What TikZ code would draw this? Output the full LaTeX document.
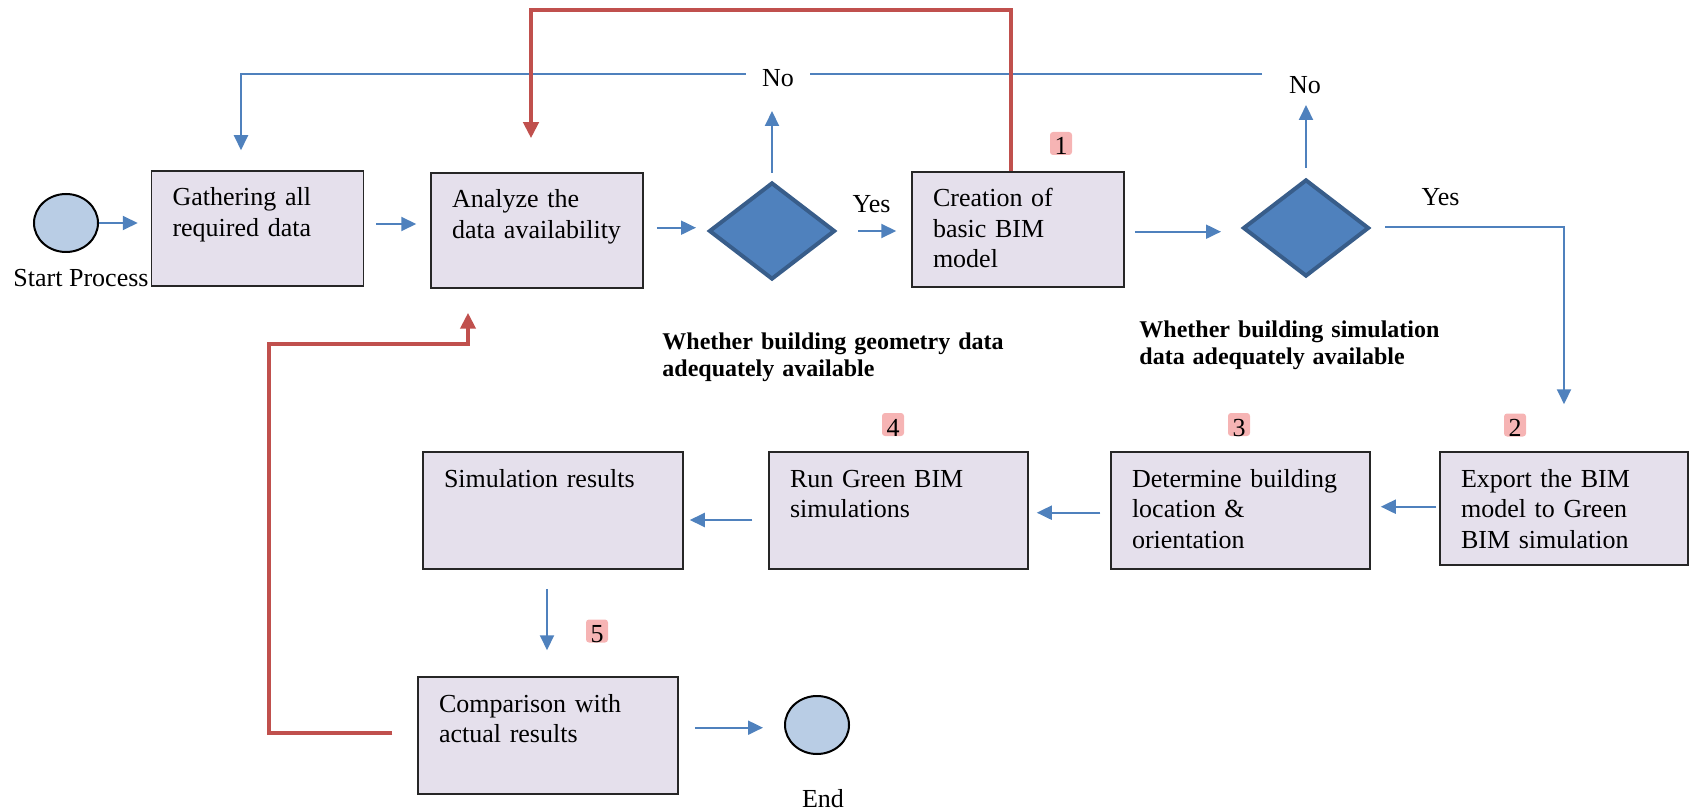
\documentclass[tikz,border=0pt]{standalone}
\usepackage{fontspec}
\setmainfont{Liberation Serif}
\usetikzlibrary{shapes.geometric, arrows.meta, positioning}
\definecolor{flowblue}{RGB}{79, 129, 189}
\definecolor{diamondedge}{RGB}{56, 93, 138}
\definecolor{boxfill}{RGB}{229, 224, 236}
\definecolor{terminalfill}{RGB}{185, 205, 229}
\definecolor{loopred}{RGB}{192, 80, 77}
\definecolor{glowred}{RGB}{246, 180, 180}

\begin{document}
\begin{tikzpicture}[x=0.5pt, y=-0.5pt,
        font=\fontsize{13}{15.25}\selectfont,
        task/.style={rectangle, draw=black!85, line width=0.75pt, fill=boxfill, align=left, inner xsep=10.5pt, inner ysep=0pt, text width=85pt, text height=17.5pt, text depth=40pt},
        wide/.style={text width=108.5pt, text depth=41pt},
        terminal/.style={ellipse, draw=black, line width=1pt, fill=terminalfill, minimum width=32pt, minimum height=29pt, inner sep=0pt},
        decision/.style={diamond, draw=diamondedge, line width=2pt, fill=flowblue, minimum width=63pt, minimum height=48.5pt, inner sep=0pt, aspect=1.3},
        flow/.style={draw=flowblue, line width=1pt, -{Triangle[length=7.5pt, width=7pt]}},
        feedback/.style={draw=loopred, line width=2.2pt, -{Triangle[length=8pt, width=7.5pt]}},
        stage/.style={fill=glowred, rounded corners=1.5pt, inner xsep=2.25pt, inner ysep=0pt, text height=11.5pt, text depth=0pt, anchor=base},
        question/.style={font=\fontsize{12}{13.5}\selectfont\bfseries, align=left, text width=175pt, inner sep=0pt, anchor=base west},
        tag/.style={anchor=base}
    ]
        \useasboundingbox (0,0) rectangle (1690,812);

        \node[terminal] (start) at (66,223) {};
        \node[tag] (startlabel) at (81,287) {Start Process};
        \node[task] (gather) at (257.5,228.5) {Gathering all\\required data};
        \node[task] (analyze) at (537,230.5) {Analyze the\\data~availability};
        \node[decision] (geomcheck) at (772,231) {};
        \node[task] (create) at (1018,229.5) {Creation of\\basic BIM\\model};
        \node[decision] (simcheck) at (1306,228) {};

        \node[task, text width=103pt, text depth=39pt] (export) at (1564,508.5) {Export the BIM\\model to Green\\BIM simulation};
        \node[task, wide] (locate) at (1240.5,510.5) {Determine building\\location \&\\orientation};
        \node[task, wide] (run) at (898.5,510.5) {Run Green BIM\\simulations};
        \node[task, wide, text width=109pt] (results) at (553,510.5) {Simulation results};
        \node[task, wide, text width=109pt] (compare) at (548,735.5) {Comparison with\\actual results};
        \node[terminal] (finish) at (817,725) {};
        \node[tag] (finishlabel) at (823,807) {End};

        \node[tag] (geomyes) at (871.5,212.5) {Yes};
        \node[tag] (simyes) at (1440.5,206) {Yes};
        \node[tag, inner xsep=8pt] (geomnolabel) at (778,87) {No};
        \node[tag] (simnolabel) at (1305,94) {No};

        \node[question] (geomq) at (662,350) {Whether building geometry data\\adequately available};
        \node[question] (simq) at (1139,337) {Whether building simulation\\data adequately available};

        \node[stage] (stage1) at (1061,155) {1};
        \node[stage] (stage2) at (1515,436.5) {2};
        \node[stage] (stage3) at (1239,436) {3};
        \node[stage] (stage4) at (893,436) {4};
        \node[stage] (stage5) at (597,642.5) {5};

        \coordinate (geomno) at (772,111);
        \coordinate (simno) at (1306,105);
        \coordinate (returnR) at (1262,74);
        \coordinate (returnL) at (241,74);
        \coordinate (loopcorner) at (269,344);

        \draw[flow, shorten >=6.5pt] (start.east) -- (start.east -| gather.west);
        \draw[flow, shorten <=6pt, shorten >=7pt] ([yshift=2.25pt]gather.east) -- ([yshift=2.25pt]gather.east -| analyze.west);
        \draw[flow, shorten <=6.5pt, shorten >=5.5pt] ([yshift=1.4pt]analyze.east) -- ([yshift=1.4pt]analyze.east -| geomcheck.west);
        \draw[flow, shorten <=10.5pt, shorten >=7.5pt] (geomcheck.east) -- (geomcheck.east -| create.west);
        \draw[flow, shorten <=5pt, shorten >=10pt] ([yshift=-1.1pt]create.east) -- ([yshift=-1.1pt]create.east -| simcheck.west);
        \draw[flow, shorten <=3.75pt] (geomcheck.north) -- (geomno);
        \draw[flow, shorten <=4.75pt] (simcheck.north) -- (simno);
        \draw[flow, -] (returnR) -- (returnR -| geomnolabel.east);
        \draw[flow, shorten >=10pt] (geomnolabel.west |- returnL) -- (returnL) -- (returnL |- gather.north);
        \draw[flow, shorten <=7pt, shorten >=23.5pt] ([yshift=0.65pt]simcheck.east) -| (export.north);

        \draw[flow, shorten <=1.5pt, shorten >=5pt] ([yshift=0.9pt]export.west) -- ([yshift=0.9pt]export.west -| locate.east);
        \draw[flow, shorten <=5pt, shorten >=4pt] ([yshift=-1.1pt]locate.west) -- ([yshift=-1.1pt]locate.west -| run.east);
        \draw[flow, shorten <=8pt, shorten >=3pt] ([yshift=-4.75pt]run.west) -- ([yshift=-4.75pt]run.west -| results.east);
        \draw[flow, shorten <=9.5pt, shorten >=13pt] ([xshift=-3pt]results.south) -- ([xshift=-3pt]results.south |- compare.north);
        \draw[flow, shorten <=8pt, shorten >=10.5pt] ([yshift=3.9pt]compare.east) -- ([yshift=3.9pt]compare.east -| finish.west);

        \draw[feedback, shorten >=17pt] ([xshift=-3.5pt]create.north) -- ++(0,-161) -| ([xshift=-3pt]analyze.north);
        \draw[feedback, shorten <=12.5pt, shorten >=12pt] ([yshift=1.25pt]compare.west) -| (loopcorner) -| ([xshift=-34.5pt]analyze.south);
    \end{tikzpicture}
\end{document}
